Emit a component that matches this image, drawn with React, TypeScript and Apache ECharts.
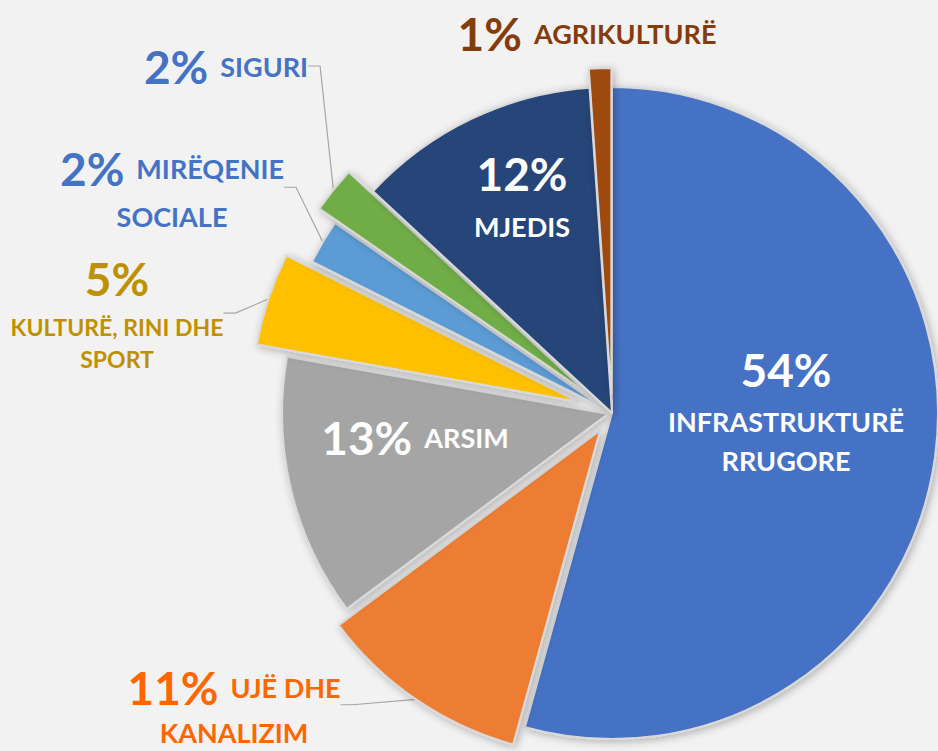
import React, { useEffect, useRef } from "react";
import * as echarts from "echarts";

// ---- data ----
const categories = [
  "INFRASTRUKTURË\nRRUGORE",
  "UJË DHE\nKANALIZIM",
  "ARSIM",
  "KULTURË, RINI DHE\nSPORT",
  "MIRËQENIE\nSOCIALE",
  "SIGURI",
  "MJEDIS",
  "AGRIKULTURË",
];
const values = [54.3, 10.5, 13.0, 4.6, 2.2, 2.3, 12.0, 1.1];

// ---- styles ----
const colors = ["#4472C4", "#ED7D31", "#A5A5A5", "#FFC000", "#5B9BD5", "#70AD47", "#264478", "#9E480E"];
const labelColors = ["#FFFFFF", "#FF6600", "#FFFFFF", "#BF9000", "#4472C4", "#4472C4", "#FFFFFF", "#843C0C"];
const explode = [0, 21, 4, 36, 10, 31, 0, 19];
const CX = 612;
const CY = 413;
const R = 326;

type LabelCfg = {
  x: number; y: number; inside: boolean; stacked: boolean;
  pSize: number; nSize: number; pLH: number; nLH: number; gap: number; line: boolean;
};
const labelCfg: LabelCfg[] = [
  { x: 786, y: 408, inside: true, stacked: true, pSize: 46, nSize: 27, pLH: 66, nLH: 39, gap: 0, line: false },
  { x: 234, y: 707, inside: false, stacked: false, pSize: 46, nSize: 27, pLH: 50, nLH: 40, gap: 12, line: true },
  { x: 415, y: 437, inside: true, stacked: false, pSize: 46, nSize: 27, pLH: 50, nLH: 38, gap: 12, line: false },
  { x: 117, y: 311, inside: false, stacked: true, pSize: 46, nSize: 23, pLH: 64, nLH: 32.5, gap: 0, line: true },
  { x: 172, y: 191, inside: false, stacked: false, pSize: 46, nSize: 27, pLH: 50, nLH: 46, gap: 12, line: true },
  { x: 226, y: 66, inside: false, stacked: false, pSize: 46, nSize: 27, pLH: 50, nLH: 38, gap: 12, line: true },
  { x: 522, y: 193, inside: true, stacked: true, pSize: 46, nSize: 27, pLH: 66, nLH: 39, gap: 0, line: false },
  { x: 587, y: 33, inside: false, stacked: false, pSize: 46, nSize: 27, pLH: 50, nLH: 38, gap: 12, line: false },
];

const FONT = "Lato";

export default function App() {
  const ref = useRef<HTMLDivElement>(null);
  useEffect(() => {
    if (!ref.current) return;
    const chart = echarts.init(ref.current, undefined, { renderer: "svg" });

    const total = values.reduce((a, b) => a + b, 0);
    let cum = 0;
    const mids = values.map((v) => {
      const m = ((cum + v / 2) / total) * Math.PI * 2;
      cum += v;
      return m;
    });

    const series = values.map((_, s) => {
      const cfg = labelCfg[s];
      const col = labelColors[s];
      const cx = CX + explode[s] * Math.sin(mids[s]);
      const cy = CY - explode[s] * Math.cos(mids[s]);
      return {
        type: "pie",
        center: [cx, cy],
        radius: R,
        startAngle: 90,
        clockwise: true,
        percentPrecision: 0,
        avoidLabelOverlap: false,
        silent: true,
        emphasis: { disabled: true },
        labelLayout: (params: any) =>
          params.dataIndex === s
            ? { x: cfg.x, y: cfg.y, align: "center", verticalAlign: "middle" }
            : {},
        data: values.map((v, i) =>
          i === s
            ? {
                name: categories[i],
                value: v,
                itemStyle: {
                  color: colors[i],
                  borderColor: "#D9D9D9",
                  borderWidth: 2,
                  shadowBlur: 8,
                  shadowColor: "rgba(0,0,0,0.28)",
                  shadowOffsetX: 2,
                  shadowOffsetY: 2,
                },
                label: {
                  show: true,
                  position: cfg.inside ? "inside" : "outside",
                  fontFamily: FONT,
                  fontWeight: "bold",
                  color: col,
                  formatter: (p: any) => {
                    const nameLines = String(p.name).split("\n");
                    const pct = `{p|${p.percent}%}`;
                    if (cfg.stacked) {
                      return [pct, ...nameLines.map((t) => `{n|${t}}`)].join("\n");
                    }
                    return [
                      `${pct}{n|${nameLines[0]}}`,
                      ...nameLines.slice(1).map((t) => `{n|${t}}`),
                    ].join("\n");
                  },
                  rich: {
                    p: {
                      fontFamily: FONT,
                      fontWeight: "bold",
                      fontSize: cfg.pSize,
                      lineHeight: cfg.pLH,
                      color: col,
                      padding: [0, cfg.gap, 0, 0],
                    },
                    n: {
                      fontFamily: FONT,
                      fontWeight: "bold",
                      fontSize: cfg.nSize,
                      lineHeight: cfg.nLH,
                      color: col,
                    },
                  },
                },
                labelLine: {
                  show: cfg.line,
                  length: 10,
                  length2: 12,
                  smooth: false,
                  lineStyle: { color: "#A6A6A6", width: 1.2 },
                },
              }
            : {
                name: categories[i],
                value: v,
                itemStyle: {
                  color: "rgba(0,0,0,0)",
                  borderWidth: 0,
                  shadowBlur: 0,
                  shadowColor: "rgba(0,0,0,0)",
                },
                label: { show: false },
                labelLine: { show: false },
              }
        ),
      };
    });

    chart.setOption({
      animation: false,
      backgroundColor: "#F2F2F2",
      series,
    } as any);

    return () => chart.dispose();
  }, []);

  return (
    <div
      ref={ref}
      style={{ position: "fixed", left: 0, top: 0, width: 938, height: 751 }}
    />
  );
}
